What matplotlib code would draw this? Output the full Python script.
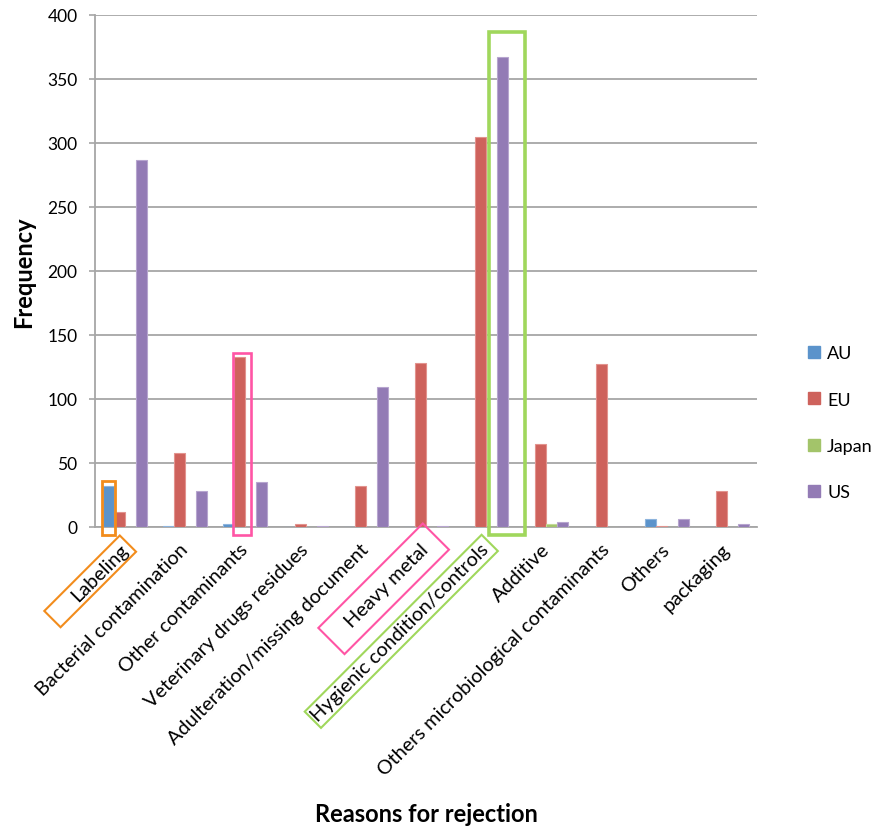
import numpy as np
import matplotlib
matplotlib.use("Agg")
import matplotlib.pyplot as plt
from matplotlib.patches import Rectangle, Patch, Polygon
from matplotlib.transforms import IdentityTransform

plt.rcParams['font.family'] = ['Lato', 'DejaVu Sans']

categories = ["Labeling", "Bacterial contamination", "Other contaminants",
              "Veterinary drugs residues", "Adulteration/missing document",
              "Heavy metal", "Hygienic condition/controls", "Additive",
              "Others microbiological contaminants", "Others", "packaging"]
series_names = ["AU", "EU", "Japan", "US"]
au = [32, 1, 2, 0, 0, 0, 0, 0, 0, 6, 0]
eu = [12, 58, 133, 2, 32, 128, 305, 65, 127, 1, 28]
japan = [0, 0, 0, 0, 0, 0, 0, 2, 0, 0, 0]
us = [287, 28, 35, 1, 109, 1, 367, 4, 0, 6, 2]
yticks = [0, 50, 100, 150, 200, 250, 300, 350, 400]

colors = ["#5B93CB", "#CE625C", "#A3C46A", "#937BB5"]
edges = ["#8DB4DD", "#E2938E", "#C3DA98", "#B7A5CF"]

fig = plt.figure(figsize=(8.73, 8.29), dpi=100)
ax = fig.add_axes([95/873, 1 - 528/829, (757 - 95)/873, (528 - 16)/829])

x = np.arange(len(categories))
bw = 0.183
offsets = (np.arange(4) - 1.5) * bw
all_series = [au, eu, japan, us]
for vals, off, c, ec, name in zip(all_series, offsets, colors, edges, series_names):
    ax.bar(x + off, vals, width=bw, color=c, edgecolor=ec, linewidth=0.8,
           label=name, zorder=3)

ax.set_xlim(-0.5, len(categories) - 0.5)
ax.set_ylim(0, 400)
ax.set_yticks(yticks)
ax.set_yticklabels([str(v) for v in yticks], fontsize=12.5)
ax.yaxis.grid(True, color="#A6A6A6", linewidth=1.3, zorder=0)
ax.set_axisbelow(True)
for s in ["top", "right"]:
    ax.spines[s].set_visible(False)
ax.spines["left"].set_color("#A6A6A6")
ax.spines["left"].set_linewidth(1.3)
ax.spines["bottom"].set_color("#A6A6A6")
ax.spines["bottom"].set_linewidth(1.3)
ax.tick_params(axis="y", length=4.5, width=1.2, color="#A6A6A6", pad=8)
ax.tick_params(axis="x", length=0, pad=14)

ax.set_xticks(x)
ax.set_xticklabels(categories, rotation=45, ha="right", va="center",
                   rotation_mode="anchor", fontsize=14.3)

ax.set_ylabel("Frequency", fontsize=17, fontweight="bold")
ax.yaxis.set_label_coords(-0.0906, 0.5)
ax.set_xlabel("Reasons for rejection", fontsize=17, fontweight="bold")
ax.xaxis.set_label_coords(0.5, -0.538)

# highlight boxes around selected bars
orange = "#F28C1C"
pink = "#FF55A5"
green = "#A0D75C"


def bar_box(cat, series_idx, top, color, lw, left_pad, right_pad):
    x0 = cat + offsets[series_idx] - bw / 2 - left_pad
    x1 = cat + offsets[series_idx] + bw / 2 + right_pad
    r = Rectangle((x0, -6), x1 - x0, top + 6, fill=False, edgecolor=color,
                  linewidth=lw, clip_on=False, zorder=5)
    ax.add_patch(r)


bar_box(0, 0, 36, orange, 2.0, 0.02, 0.02)
bar_box(2, 1, 136, pink, 1.9, 0.02, 0.1)
bar_box(6, 3, 387, green, 2.6, 0.13, 0.28)

# highlight boxes around selected category labels (rotated with the text)
fig.canvas.draw()
renderer = fig.canvas.get_renderer()


def label_box(lbl, pad_hi, pad_lo, pad_perp, color, lw):
    tmp = fig.text(0, 0, lbl.get_text(), fontproperties=lbl.get_fontproperties())
    bb = tmp.get_window_extent(renderer)
    tmp.remove()
    w, h = bb.width, bb.height
    anchor = np.array(lbl.get_transform().transform(lbl.get_position()))
    ang = np.deg2rad(lbl.get_rotation())
    u = np.array([np.cos(ang), np.sin(ang)])
    n = np.array([-np.sin(ang), np.cos(ang)])
    hi = anchor + pad_hi * u
    lo = anchor - (w + pad_lo) * u
    half = h / 2 + pad_perp
    pts = [hi + half * n, hi - half * n, lo - half * n, lo + half * n]
    poly = Polygon(pts, closed=True, fill=False, edgecolor=color, linewidth=lw,
                   transform=IdentityTransform(), zorder=6)
    fig.add_artist(poly)


labels = ax.get_xticklabels()
label_box(labels[0], 4, 30, 3, orange, 1.5)
label_box(labels[5], 14, 24, 10, pink, 1.5)
label_box(labels[6], 5, 2, 3, green, 1.5)

handles = [Patch(facecolor=c, edgecolor=c) for c in colors]
fig.legend(handles, series_names, loc="upper left",
           bbox_to_anchor=(792/873, 1 - 330/829), frameon=False,
           fontsize=13, handlelength=0.65, handleheight=0.65,
           handletextpad=0.4, labelspacing=1.68)

fig.savefig("out.png", dpi=100)
